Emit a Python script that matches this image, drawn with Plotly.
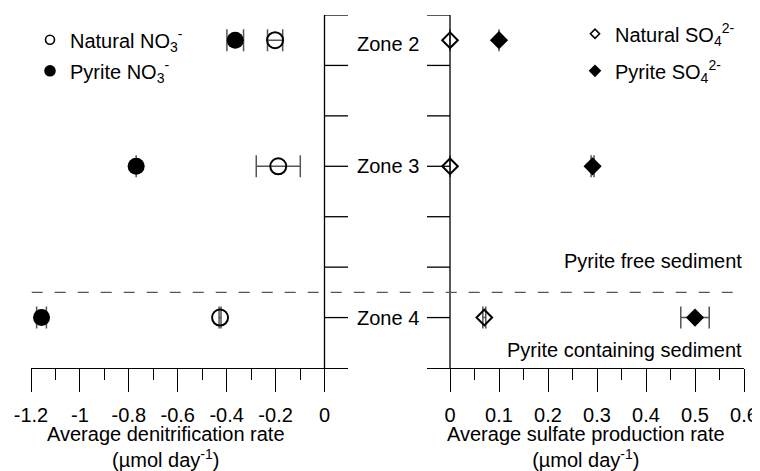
import plotly.graph_objects as go

# ---------------- data ----------------
zones = ["Zone 2", "Zone 3", "Zone 4"]
zone_y = [6.5, 4.0, 1.0]          # vertical position of each zone
zone_label_y = [6.42, 4.0, 1.0]   # where the zone names sit

natural_no3 = [-0.202, -0.189, -0.427]
natural_no3_err = [0.031, 0.09, 0.004]
pyrite_no3 = [-0.365, -0.77, -1.157]
pyrite_no3_err = [0.034, 0.0, 0.02]

natural_so4 = [0.0, 0.0, 0.07]
natural_so4_err = [0.0, 0.0, 0.003]
pyrite_so4 = [0.1, 0.291, 0.5]
pyrite_so4_err = [0.0, 0.003, 0.029]

left_ticks = [-1.2, -1.0, -0.8, -0.6, -0.4, -0.2, 0.0]
left_ticktext = ["-1.2", "-1", "-0.8", "-0.6", "-0.4", "-0.2", "0"]
left_minor = [-1.1, -0.9, -0.7, -0.5, -0.3, -0.1]
right_ticks = [0.0, 0.1, 0.2, 0.3, 0.4, 0.5, 0.6]
right_ticktext = ["0", "0.1", "0.2", "0.3", "0.4", "0.5", "0.6"]
right_minor = [0.05, 0.15, 0.25, 0.35, 0.45, 0.55]
zone_ticks = [1, 2, 3, 4, 5, 6, 7]
boundary_y = 1.5

FONT = "Liberation Sans, Arial, sans-serif"
FS = 20
ERRC = "#555555"

fig = go.Figure()

def err(vals):
    return dict(type="data", array=vals, visible=True, color=ERRC,
                thickness=1.5, width=11)

fig.add_trace(go.Scatter(x=natural_no3, y=zone_y, xaxis="x", yaxis="y", mode="markers",
                         marker=dict(symbol="circle-open", size=16, color="black",
                                     line=dict(width=2, color="black")),
                         error_x=err(natural_no3_err), showlegend=False))
fig.add_trace(go.Scatter(x=pyrite_no3, y=zone_y, xaxis="x", yaxis="y", mode="markers",
                         marker=dict(symbol="circle", size=17, color="black"),
                         error_x=err(pyrite_no3_err), showlegend=False))
fig.add_trace(go.Scatter(x=natural_so4, y=zone_y, xaxis="x2", yaxis="y", mode="markers",
                         marker=dict(symbol="diamond-open", size=12, color="black",
                                     line=dict(width=2, color="black")),
                         error_x=err(natural_so4_err), showlegend=False))
fig.add_trace(go.Scatter(x=pyrite_so4, y=zone_y, xaxis="x2", yaxis="y", mode="markers",
                         marker=dict(symbol="diamond", size=14, color="black"),
                         error_x=err(pyrite_so4_err), showlegend=False))

# legend-only entries (small symbols as in the reference)
legend_entries = [
    ("Natural NO<sub>3</sub><sup>-</sup>", "circle-open", 9, "legend", "g1"),
    ("Pyrite NO<sub>3</sub><sup>-</sup>", "circle", 10, "legend", "g2"),
    ("Natural SO<sub>4</sub><sup>2-</sup>", "diamond-open", 7, "legend2", "g3"),
    ("Pyrite SO<sub>4</sub><sup>2-</sup>", "diamond", 8, "legend2", "g4"),
]
for name, sym, sz, lg, grp in legend_entries:
    fig.add_trace(go.Scatter(x=[None], y=[None], xaxis="x", yaxis="y", mode="markers",
                             name=name, legend=lg, legendgroup=grp,
                             marker=dict(symbol=sym, size=sz, color="black",
                                         line=dict(width=1.6, color="black"))))

# geometry (page pixels; the page body adds an 8px offset)
OFF = 8
W, H = 760 - OFF, 471 - OFF
plot_l, plot_r, plot_t, plot_b = 31, 744, 14.7, 367.7
L = plot_l - OFF
R = (760 - OFF) - (plot_r - OFF)
T = plot_t - OFF
B = H - (plot_b - OFF)
pw = plot_r - plot_l
ph = plot_b - plot_t

left_end_px = 348
right_start_px = 427
d1 = (left_end_px - plot_l) / pw
d2 = (right_start_px - plot_l) / pw
px_left = (324.5 - plot_l) / 1.2
left_range = [-1.2, -1.2 + (left_end_px - plot_l) / px_left]
px_right = (744 - 450) / 0.6
right_range = [0.6 - (744 - right_start_px) / px_right, 0.6]

def px_x(p):
    return (p - plot_l) / pw

def px_y(p):
    return (plot_b - p) / ph

axis_common = dict(showline=True, linecolor="black", linewidth=1.3,
                   ticks="outside", ticklen=23, tickwidth=1.3, tickcolor="black",
                   showgrid=False, zeroline=False, automargin=False,
                   ticklabelstandoff=6,
                   tickfont=dict(family=FONT, size=FS, color="black"),
                   tickmode="array", anchor="y", fixedrange=True)

fig.update_layout(
    width=W, height=H,
    margin=dict(l=L, r=R, t=T, b=B, autoexpand=False),
    paper_bgcolor="white", plot_bgcolor="white",
    font=dict(family=FONT, size=FS, color="black"),
    xaxis=dict(domain=[0, d1], range=left_range, tickvals=left_ticks,
               ticktext=left_ticktext,
               minor=dict(tickmode="array", tickvals=left_minor, ticklen=11,
                          tickwidth=1.3, tickcolor="black", ticks="outside", showgrid=False),
               **axis_common),
    xaxis2=dict(domain=[d2, 1], range=right_range, tickvals=right_ticks,
                ticktext=right_ticktext,
                minor=dict(tickmode="array", tickvals=right_minor, ticklen=11,
                           tickwidth=1.3, tickcolor="black", ticks="outside", showgrid=False),
                **axis_common),
    yaxis=dict(range=[0, 7], visible=False, fixedrange=True),
    legend=dict(x=px_x(30), y=px_y(20), xanchor="left", yanchor="top",
                bgcolor="rgba(0,0,0,0)", borderwidth=0, traceorder="grouped",
                tracegroupgap=2, font=dict(family=FONT, size=FS, color="black")),
    legend2=dict(x=px_x(575), y=px_y(14), xanchor="left", yanchor="top",
                 bgcolor="rgba(0,0,0,0)", borderwidth=0, traceorder="grouped",
                 tracegroupgap=8, font=dict(family=FONT, size=FS, color="black")),
)

shapes = []
# central vertical axes
for xr in ["x", "x2"]:
    shapes.append(dict(type="line", xref=xr, yref="y", x0=0, x1=0, y0=0, y1=7,
                       line=dict(color="black", width=1.3)))
# inward ticks on the central axes
for yv in zone_ticks:
    shapes.append(dict(type="line", xref="x", yref="y", xsizemode="pixel", xanchor=0,
                       x0=0, x1=23.5, y0=yv, y1=yv, line=dict(color="black", width=1.3)))
    shapes.append(dict(type="line", xref="x2", yref="y", xsizemode="pixel", xanchor=0,
                       x0=-23.5, x1=0, y0=yv, y1=yv, line=dict(color="black", width=1.3)))
# boundary between pyrite-free and pyrite-containing sediment
shapes.append(dict(type="line", xref="paper", yref="y", x0=0.001, x1=0.997,
                   y0=boundary_y, y1=boundary_y,
                   line=dict(color="#555555", width=1.3, dash="11px,12px")))
fig.update_layout(shapes=shapes)

ann = []
for z, yv in zip(zones, zone_label_y):
    ann.append(dict(text=z, xref="paper", yref="y", x=px_x(387.5), y=yv,
                    xanchor="center", yanchor="middle", showarrow=False,
                    font=dict(family=FONT, size=FS, color="black")))
ann.append(dict(text="Pyrite free sediment", xref="paper", yref="y", x=1.0, y=2.12,
                xanchor="right", yanchor="middle", showarrow=False,
                font=dict(family=FONT, size=FS, color="black")))
ann.append(dict(text="Pyrite containing sediment", xref="paper", yref="y", x=1.0, y=0.36,
                xanchor="right", yanchor="middle", showarrow=False,
                font=dict(family=FONT, size=FS, color="black")))
ann.append(dict(text="Average denitrification rate<br>(µmol day<sup>-1</sup>)",
                xref="paper", yref="paper", x=px_x(166), y=px_y(447),
                xanchor="center", yanchor="middle", showarrow=False,
                font=dict(family=FONT, size=FS, color="black")))
ann.append(dict(text="Average sulfate production rate<br>(µmol day<sup>-1</sup>)",
                xref="paper", yref="paper", x=px_x(585.5), y=px_y(447),
                xanchor="center", yanchor="middle", showarrow=False,
                font=dict(family=FONT, size=FS, color="black")))
fig.update_layout(annotations=ann)

fig.write_html("out.html")
